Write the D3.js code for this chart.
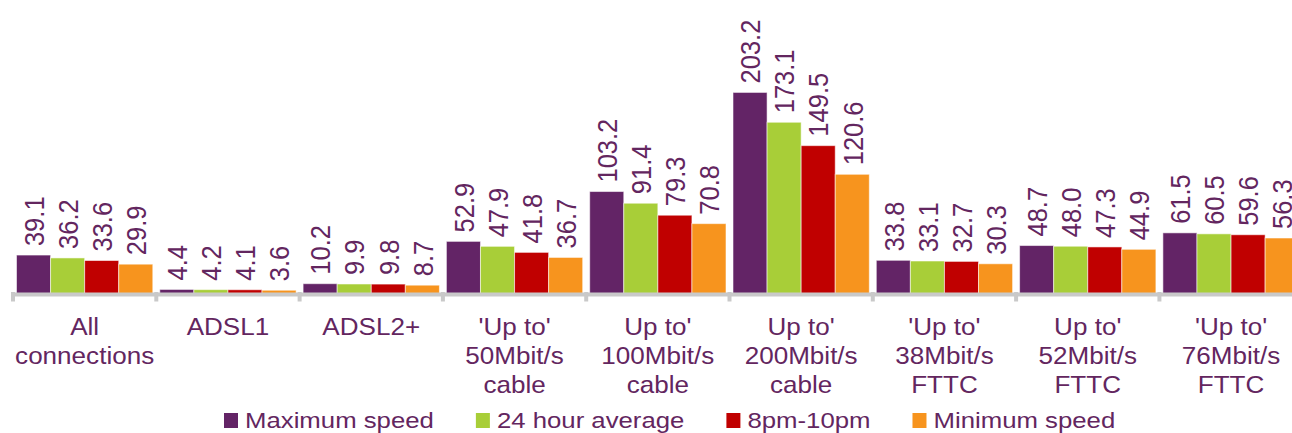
<!DOCTYPE html>
<html>
<head>
<meta charset="utf-8">
<script src="https://cdn.jsdelivr.net/npm/d3@7"></script>
<style>
  body { margin: 0; background: #fff; }
  svg { display: block; font-family: "Liberation Sans", Arial, sans-serif; }
</style>
</head>
<body>
<div id="chart"></div>
<script>
// Chart data
var categories = [
  ["All", "connections"],
  ["ADSL1"],
  ["ADSL2+"],
  ["'Up to'", "50Mbit/s", "cable"],
  ["Up to'", "100Mbit/s", "cable"],
  ["Up to'", "200Mbit/s", "cable"],
  ["'Up to'", "38Mbit/s", "FTTC"],
  ["Up to'", "52Mbit/s", "FTTC"],
  ["'Up to'", "76Mbit/s", "FTTC"]
]
var seriesNames = ["Maximum speed", "24 hour average", "8pm-10pm", "Minimum speed"]
var maxSpeed = [39.1, 4.4, 10.2, 52.9, 103.2, 203.2, 33.8, 48.7, 61.5]
var avg24 = [36.2, 4.2, 9.9, 47.9, 91.4, 173.1, 33.1, 48.0, 60.5]
var peak = [33.6, 4.1, 9.8, 41.8, 79.3, 149.5, 32.7, 47.3, 59.6]
var minSpeed = [29.9, 3.6, 8.7, 36.7, 70.8, 120.6, 30.3, 44.9, 56.3]
var seriesValues = [maxSpeed, avg24, peak, minSpeed]
var colors = ["#632466", "#a8ce38", "#c00000", "#f7941e"]
var textColor = "#63265f"

var svgWidth = 1292
var svgHeight = 433
var stretch = 1.12  // text in the picture is a bit wider than it is tall

var svg = d3.select("#chart")
  .append("svg")
  .attr("width", svgWidth)
  .attr("height", svgHeight)

// Scales
var idx = d3.range(categories.length)
var x0 = d3.scaleBand()
  .domain(idx)
  .range([13, 13 + 143.3 * categories.length])

var x1 = d3.scaleBand()
  .domain(d3.range(seriesNames.length))
  .range([3.5, x0.bandwidth() - 3.5])

var y = d3.scaleLinear()
  .domain([0, 210])
  .range([293.8, 293.8 - 0.991 * 210])

// Bars
var groups = svg.append("g").selectAll("g")
  .data(idx)
  .enter()
  .append("g")
  .attr("transform", d => `translate(${x0(d)}, 0)`)

groups.selectAll("rect")
  .data(i => seriesValues.map((vals, s) => ({s: s, v: vals[i]})))
  .enter()
  .append("rect")
  .attr("x", d => x1(d.s))
  .attr("y", d => y(d.v))
  .attr("width", x1.bandwidth())
  .attr("height", d => y(0) - y(d.v))
  .attr("fill", d => colors[d.s])
  .attr("stroke", "rgba(255,255,255,0.55)")
  .attr("stroke-width", 1)

// Value labels, rotated
groups.selectAll("text")
  .data(i => seriesValues.map((vals, s) => ({s: s, v: vals[i]})))
  .enter()
  .append("text")
  .attr("transform", d => `translate(${x1(d.s) + x1.bandwidth() / 2}, ${y(d.v) - 9}) scale(${stretch}, 1) rotate(-90)`)
  .attr("dy", "0.36em")
  .attr("text-anchor", "start")
  .attr("fill", textColor)
  .style("font-size", "25.5px")
  .text(d => d.v.toFixed(1))

// Axis line and ticks
var axis = d3.axisBottom(x0)
  .tickValues([])
  .tickSizeOuter(0)
svg.append("g")
  .attr("transform", `translate(0, 294)`)
  .call(axis)
  .select(".domain")
  .attr("stroke", "#c9c9c9")
  .attr("stroke-width", 4)

var tickPos = d3.range(categories.length + 1).map(i => x0.range()[0] + i * x0.step())
svg.append("g").selectAll("line")
  .data(tickPos)
  .enter()
  .append("line")
  .attr("x1", d => d)
  .attr("x2", d => d)
  .attr("y1", 292)
  .attr("y2", 301.5)
  .attr("stroke", "#c9c9c9")
  .attr("stroke-width", 4)

// Category labels
var catLabels = svg.append("g").selectAll("g")
  .data(idx)
  .enter()
  .append("g")
  .attr("transform", d => `translate(${x0(d) + x0.bandwidth() / 2}, 0)`)

catLabels.selectAll("text")
  .data(i => categories[i])
  .enter()
  .append("text")
  .attr("transform", (d, j) => `translate(0, ${335 + j * 29}) scale(${stretch * 0.97}, 1)`)
  .attr("text-anchor", "middle")
  .attr("fill", textColor)
  .style("font-size", "24px")
  .text(d => d)

// Legend
var legend = svg.append("g")
var lx = 224
seriesNames.forEach(function(name, s) {
  legend.append("rect")
    .attr("x", lx)
    .attr("y", 413)
    .attr("width", 14)
    .attr("height", 15)
    .attr("fill", colors[s])
  var t = legend.append("text")
    .attr("transform", `translate(${lx + 21}, 428) scale(${stretch}, 1)`)
    .attr("fill", textColor)
    .style("font-size", "23px")
    .text(name)
  lx += 21 + t.node().getComputedTextLength() * stretch + 42
})
</script>
</body>
</html>
